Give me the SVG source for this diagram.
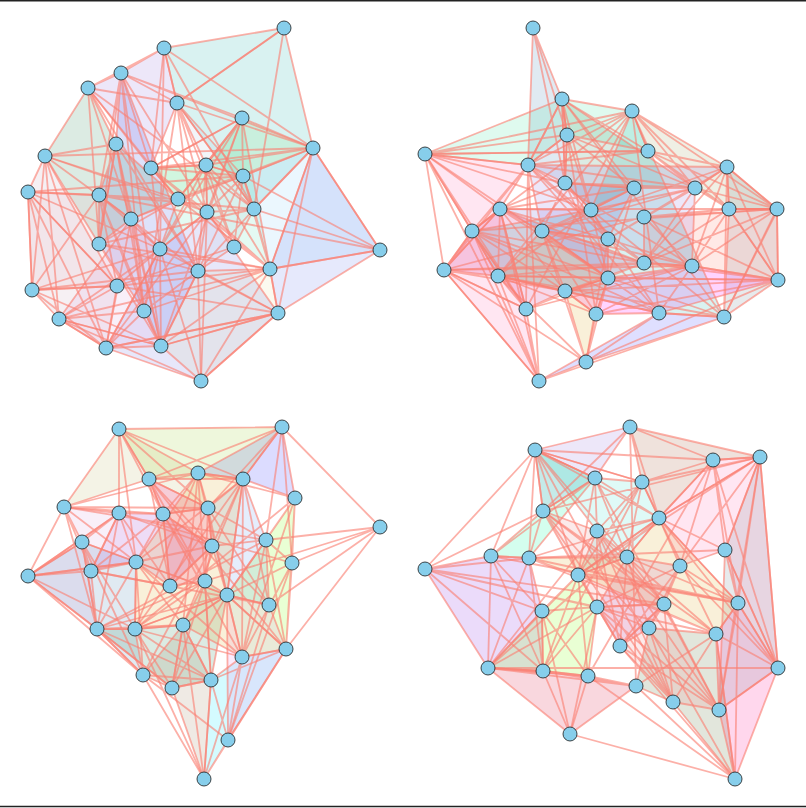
<svg xmlns="http://www.w3.org/2000/svg" width="806" height="808" viewBox="0 0 806 808">
<style>
.h{stroke:none;fill-opacity:.17}
.e{fill:none;stroke:#FA8072;stroke-opacity:.62;stroke-width:1.8;stroke-linejoin:round;stroke-linecap:round}
.n circle{fill:#87CEEB;stroke:#1a1a1a;stroke-width:.8}
.frame{stroke:#222;stroke-width:1.5}
</style>
<rect width="806" height="808" fill="#fff"/>
<line class="frame" x1="0" y1="0.75" x2="806" y2="0.75"/>
<line class="frame" x1="0" y1="806.5" x2="806" y2="806.5"/>
<g id="hulls">
<!-- panel A -->
<polygon class="h" fill="#20b2aa" fill-opacity=".12" points="164,48 284,28 313,148 254,209 177,103"/>
<polygon class="h" fill="#9370db" points="164,48 177,103 151,168 88,88 121,73"/>
<polygon class="h" fill="#3e54e0" fill-opacity=".3" points="121,73 198,271 161,346 144,311 99,244 99,195 116,144"/>
<polygon class="h" fill="#7ee07e" points="242,118 313,148 243,176 178,199 151,168 206,165"/>
<polygon class="h" fill="#87cefa" fill-opacity=".25" points="313,148 380,250 270,269 254,209 243,176"/>
<polygon class="h" fill="#c8a8b8" fill-opacity=".15" points="45,156 117,286 106,348 59,319 32,290 28,192"/>
<polygon class="h" fill="#e8e0a0" points="270,269 278,313 201,381 161,346 198,271"/>
<polygon class="h" fill="#7070e0" fill-opacity=".22" points="207,212 278,313 201,381 106,348 160,249"/>
<polygon class="h" fill="#2e8b57" fill-opacity=".13" points="88,88 116,144 178,199 131,219 99,244 45,156"/>
<polygon class="h" fill="#e0b0c0" fill-opacity=".12" points="28,192 99,195 160,249 117,286 32,290"/>
<polygon class="h" fill="#b0c4de" points="177,103 243,176 254,209 234,247 198,271 207,212 206,165"/>
<polygon class="h" fill="#dda0dd" points="131,219 160,249 144,311 161,346 106,348 59,319"/>
<polygon class="h" fill="#5fe0b0" points="206,165 242,118 270,269 207,212 160,249 178,199 151,168"/>
<polygon class="h" fill="#6a7ff0" points="313,148 380,250 278,313 270,269"/>
<!-- panel B -->
<polygon class="h" fill="#4682b4" points="533,28 562,99 567,135 565,183 528,165"/>
<polygon class="h" fill="#40e0a0" points="425,154 562,99 632,111 648,151 567,135 528,165"/>
<polygon class="h" fill="#ff69b4" points="425,154 528,165 500,209 526,309 539,381 444,270 472,231"/>
<polygon class="h" fill="#a0a060" points="632,111 727,167 777,209 729,209 695,188 648,151"/>
<polygon class="h" fill="#708090" points="727,167 777,209 778,280 724,317 729,209"/>
<polygon class="h" fill="#4040ff" points="539,381 659,313 724,317 586,362"/>
<polygon class="h" fill="#ff00ff" points="608,278 692,266 778,280 659,313 596,314 565,291"/>
<polygon class="h" fill="#6a5acd" points="565,183 634,188 608,239 608,278 542,231 500,209 591,210"/>
<polygon class="h" fill="#2e8b57" points="562,99 695,188 634,188 591,210 565,183 567,135"/>
<polygon class="h" fill="#ff7f6a" fill-opacity=".12" points="644,217 729,209 777,209 778,280 692,266 644,263"/>
<polygon class="h" fill="#daa520" points="542,231 608,278 596,314 586,362 565,291 498,276"/>
<polygon class="h" fill="#c71585" fill-opacity=".12" points="500,209 644,263 565,291 526,309 498,276 444,270 472,231"/>
<polygon class="h" fill="#9370db" points="528,165 727,167 695,188 692,266 644,263 608,239 542,231"/>
<polygon class="h" fill="#20b2aa" fill-opacity=".1" points="632,111 724,317 659,313 498,276 472,231 591,210"/>
<!-- panel C -->
<polygon class="h" fill="#bdb76b" points="119,429 198,473 208,508 163,514 149,479 64,507"/>
<polygon class="h" fill="#3030ff" points="198,473 282,427 295,498 243,479"/>
<polygon class="h" fill="#7fff00" points="295,498 292,563 286,649 242,657 227,595 266,540"/>
<polygon class="h" fill="#dda0dd" points="64,507 119,513 91,571 97,629 28,576 82,542"/>
<polygon class="h" fill="#4682b4" points="82,542 136,562 135,629 143,675 97,629 28,576"/>
<polygon class="h" fill="#a0825d" points="183,625 211,680 204,779 172,688 143,675"/>
<polygon class="h" fill="#00e5ff" points="242,657 286,649 228,740 204,779 211,680"/>
<polygon class="h" fill="#ee82ee" points="227,595 269,605 286,649 228,740"/>
<polygon class="h" fill="#9932cc" points="119,513 163,514 212,546 170,586 136,562 91,571"/>
<polygon class="h" fill="#2e8b57" points="205,581 227,595 211,680 172,688 97,629 135,629 183,625"/>
<polygon class="h" fill="#ff1493" fill-opacity=".1" points="149,479 208,508 212,546 205,581 170,586 163,514"/>
<polygon class="h" fill="#6495ed" points="243,479 266,540 269,605 227,595 212,546 208,508"/>
<polygon class="h" fill="#daa520" fill-opacity=".12" points="198,473 243,479 227,595 242,657 183,625 135,629 136,562"/>
<polygon class="h" fill="#9acd32" fill-opacity=".14" points="119,429 282,427 243,479 149,479"/>
<!-- panel D -->
<polygon class="h" fill="#9370db" points="535,450 630,427 595,478 543,511"/>
<polygon class="h" fill="#a0522d" fill-opacity=".13" points="630,427 760,457 713,460 659,518 642,482"/>
<polygon class="h" fill="#00fa9a" fill-opacity=".13" points="535,450 595,478 529,558 491,556 543,511"/>
<polygon class="h" fill="#8a2be2" fill-opacity=".12" points="425,569 491,556 529,558 542,611 543,671 488,668"/>
<polygon class="h" fill="#ff1493" points="738,603 778,668 735,779 719,710 716,634"/>
<polygon class="h" fill="#7fff00" fill-opacity=".13" points="578,575 597,607 588,676 543,671 488,668 542,611"/>
<polygon class="h" fill="#dc143c" fill-opacity=".13" points="488,668 543,671 588,676 636,686 570,734"/>
<polygon class="h" fill="#556b2f" fill-opacity=".1" points="649,628 716,634 735,779 673,702 636,686"/>
<polygon class="h" fill="#40e0d0" points="535,450 595,478 642,482 659,518 627,557 578,575 597,531"/>
<polygon class="h" fill="#ff69b4" fill-opacity=".12" points="713,460 760,457 778,668 738,603 725,550 680,566 659,518"/>
<polygon class="h" fill="#ba55d3" points="627,557 680,566 664,604 649,628 620,646 597,607"/>
<polygon class="h" fill="#708090" points="760,457 778,668 719,710 725,550"/>
<polygon class="h" fill="#f08080" fill-opacity=".1" points="543,511 597,531 664,604 719,710 673,702 620,646 597,607"/>
<polygon class="h" fill="#daa520" fill-opacity=".12" points="529,558 627,557 659,518 738,603 716,634 578,575"/>
</g>
<g id="connectors">
<!-- panel A -->
<path class="e" d="M164 48 L284 28 L313 148 L254 209 L177 103 L164 48 L313 148 L177 103 L284 28 L254 209 L164 48"/>
<path class="e" d="M164 48 L177 103 L151 168 L88 88 L121 73 L164 48 L151 168 L121 73 L177 103 L88 88 L164 48"/>
<path class="e" d="M121 73 L198 271 L161 346 L144 311 L99 244 L99 195 L116 144 L121 73 L161 346 L99 244 L116 144 L198 271 L144 311 L99 195 L121 73 L144 311 L116 144 L161 346 L99 195 L198 271 L99 244 L121 73"/>
<path class="e" d="M242 118 L313 148 L243 176 L178 199 L151 168 L206 165 L242 118 L243 176 L151 168 L242 118 M313 148 L178 199 L206 165 L313 148 M242 118 L178 199 M313 148 L151 168 M243 176 L206 165"/>
<path class="e" d="M313 148 L380 250 L270 269 L254 209 L243 176 L313 148 L270 269 L243 176 L380 250 L254 209 L313 148"/>
<path class="e" d="M45 156 L117 286 L106 348 L59 319 L32 290 L28 192 L45 156 L106 348 L32 290 L45 156 M117 286 L59 319 L28 192 L117 286 M45 156 L59 319 M117 286 L32 290 M106 348 L28 192"/>
<path class="e" d="M270 269 L278 313 L201 381 L161 346 L198 271 L270 269 L201 381 L198 271 L278 313 L161 346 L270 269"/>
<path class="e" d="M207 212 L278 313 L201 381 L106 348 L160 249 L207 212 L201 381 L160 249 L278 313 L106 348 L207 212"/>
<path class="e" d="M88 88 L116 144 L178 199 L131 219 L99 244 L45 156 L88 88 L178 199 L99 244 L88 88 M116 144 L131 219 L45 156 L116 144 M88 88 L131 219 M116 144 L99 244 M178 199 L45 156"/>
<path class="e" d="M28 192 L99 195 L160 249 L117 286 L32 290 L28 192 L160 249 L32 290 L99 195 L117 286 L28 192"/>
<path class="e" d="M177 103 L243 176 L254 209 L234 247 L198 271 L207 212 L206 165 L177 103 L254 209 L198 271 L206 165 L243 176 L234 247 L207 212 L177 103 L234 247 L206 165 L254 209 L207 212 L243 176 L198 271 L177 103"/>
<path class="e" d="M131 219 L160 249 L144 311 L161 346 L106 348 L59 319 L131 219 L144 311 L106 348 L131 219 M160 249 L161 346 L59 319 L160 249 M131 219 L161 346 M160 249 L106 348 M144 311 L59 319"/>
<path class="e" d="M206 165 L242 118 L270 269 L207 212 L160 249 L178 199 L151 168 L206 165 L270 269 L160 249 L151 168 L242 118 L207 212 L178 199 L206 165 L207 212 L151 168 L270 269 L178 199 L242 118 L160 249 L206 165"/>
<path class="e" d="M313 148 L380 250 L278 313 L270 269 L313 148 L278 313 M380 250 L270 269"/>
<path class="e" d="M380 250 L99 195 M121 73 L242 118 M121 73 L313 148 M32 290 L161 346 M59 319 L161 346 M45 156 L313 148 M88 88 L254 209 M28 192 L243 176 M284 28 L177 103 M59 319 L201 381 M106 348 L278 313 M99 244 L270 269 M117 286 L234 247 M117 286 L270 269 M117 286 L278 313 M99 244 L254 209 M99 195 L254 209 M131 219 L243 176 M144 311 L270 269 M161 346 L278 313 M88 88 L198 271 M121 73 L207 212 M164 48 L160 249 M177 103 L144 311 M242 118 L161 346 M45 156 L207 212 M28 192 L178 199 M32 290 L198 271 M59 319 L270 269"/>
<!-- panel B -->
<path class="e" d="M533 28 L562 99 L567 135 L565 183 L528 165 L533 28 L567 135 L528 165 L562 99 L565 183 L533 28"/>
<path class="e" d="M425 154 L562 99 L632 111 L648 151 L567 135 L528 165 L425 154 L632 111 L567 135 L425 154 M562 99 L648 151 L528 165 L562 99 M425 154 L648 151 M562 99 L567 135 M632 111 L528 165"/>
<path class="e" d="M425 154 L528 165 L500 209 L526 309 L539 381 L444 270 L472 231 L425 154 L500 209 L539 381 L472 231 L528 165 L526 309 L444 270 L425 154 L526 309 L472 231 L500 209 L444 270 L528 165 L539 381 L425 154"/>
<path class="e" d="M632 111 L727 167 L777 209 L729 209 L695 188 L648 151 L632 111 L777 209 L695 188 L632 111 M727 167 L729 209 L648 151 L727 167 M632 111 L729 209 M727 167 L695 188 M777 209 L648 151"/>
<path class="e" d="M727 167 L777 209 L778 280 L724 317 L729 209 L727 167 L778 280 L729 209 L777 209 L724 317 L727 167"/>
<path class="e" d="M539 381 L659 313 L724 317 L586 362 L539 381 L724 317 M659 313 L586 362"/>
<path class="e" d="M608 278 L692 266 L778 280 L659 313 L596 314 L565 291 L608 278 L778 280 L596 314 L608 278 M692 266 L659 313 L565 291 L692 266 M608 278 L659 313 M692 266 L596 314 M778 280 L565 291"/>
<path class="e" d="M565 183 L634 188 L608 239 L608 278 L542 231 L500 209 L591 210 L565 183 L608 239 L542 231 L591 210 L634 188 L608 278 L500 209 L565 183 L608 278 L591 210 L608 239 L500 209 L634 188 L542 231 L565 183"/>
<path class="e" d="M562 99 L695 188 L634 188 L591 210 L565 183 L567 135 L562 99 L634 188 L565 183 L562 99 M695 188 L591 210 L567 135 L695 188 M562 99 L591 210 M695 188 L565 183 M634 188 L567 135"/>
<path class="e" d="M644 217 L729 209 L777 209 L778 280 L692 266 L644 263 L644 217 L777 209 L692 266 L644 217 M729 209 L778 280 L644 263 L729 209 M644 217 L778 280 M729 209 L692 266 M777 209 L644 263"/>
<path class="e" d="M542 231 L608 278 L596 314 L586 362 L565 291 L498 276 L542 231 L596 314 L565 291 L542 231 M608 278 L586 362 L498 276 L608 278 M542 231 L586 362 M608 278 L565 291 M596 314 L498 276"/>
<path class="e" d="M500 209 L644 263 L565 291 L526 309 L498 276 L444 270 L472 231 L500 209 L565 291 L498 276 L472 231 L644 263 L526 309 L444 270 L500 209 L526 309 L472 231 L565 291 L444 270 L644 263 L498 276 L500 209"/>
<path class="e" d="M528 165 L727 167 L695 188 L692 266 L644 263 L608 239 L542 231 L528 165 L695 188 L644 263 L542 231 L727 167 L692 266 L608 239 L528 165 L692 266 L542 231 L695 188 L608 239 L727 167 L644 263 L528 165"/>
<path class="e" d="M632 111 L724 317 L659 313 L498 276 L472 231 L591 210 L632 111 L659 313 L472 231 L632 111 M724 317 L498 276 L591 210 L724 317 M632 111 L498 276 M724 317 L472 231 M659 313 L591 210"/>
<path class="e" d="M425 154 L591 210 M425 154 L565 183 M444 270 L539 381 M425 154 L472 231 M586 362 L778 280 M500 209 L777 209 M444 270 L692 266 M425 154 L648 151 M444 270 L586 362 M539 381 L498 276 M724 317 L778 209 M586 362 L608 239 M472 231 L777 209 M444 270 L644 217 M528 165 L659 313 M567 135 L596 314 M562 99 L724 317 M498 276 L778 280 M526 309 L692 266 M425 154 L608 278 M632 111 L526 309"/>
<!-- panel C -->
<path class="e" d="M119 429 L198 473 L208 508 L163 514 L149 479 L64 507 L119 429 L208 508 L149 479 L119 429 M198 473 L163 514 L64 507 L198 473 M119 429 L163 514 M198 473 L149 479 M208 508 L64 507"/>
<path class="e" d="M198 473 L282 427 L295 498 L243 479 L198 473 L295 498 M282 427 L243 479"/>
<path class="e" d="M295 498 L292 563 L286 649 L242 657 L227 595 L266 540 L295 498 L286 649 L227 595 L295 498 M292 563 L242 657 L266 540 L292 563 M295 498 L242 657 M292 563 L227 595 M286 649 L266 540"/>
<path class="e" d="M64 507 L119 513 L91 571 L97 629 L28 576 L82 542 L64 507 L91 571 L28 576 L64 507 M119 513 L97 629 L82 542 L119 513 M64 507 L97 629 M119 513 L28 576 M91 571 L82 542"/>
<path class="e" d="M82 542 L136 562 L135 629 L143 675 L97 629 L28 576 L82 542 L135 629 L97 629 L82 542 M136 562 L143 675 L28 576 L136 562 M82 542 L143 675 M136 562 L97 629 M135 629 L28 576"/>
<path class="e" d="M183 625 L211 680 L204 779 L172 688 L143 675 L183 625 L204 779 L143 675 L211 680 L172 688 L183 625"/>
<path class="e" d="M242 657 L286 649 L228 740 L204 779 L211 680 L242 657 L228 740 L211 680 L286 649 L204 779 L242 657"/>
<path class="e" d="M227 595 L269 605 L286 649 L228 740 L227 595 L286 649 M269 605 L228 740"/>
<path class="e" d="M119 513 L163 514 L212 546 L170 586 L136 562 L91 571 L119 513 L212 546 L136 562 L119 513 M163 514 L170 586 L91 571 L163 514 M119 513 L170 586 M163 514 L136 562 M212 546 L91 571"/>
<path class="e" d="M205 581 L227 595 L211 680 L172 688 L97 629 L135 629 L183 625 L205 581 L211 680 L97 629 L183 625 L227 595 L172 688 L135 629 L205 581 L172 688 L183 625 L211 680 L135 629 L227 595 L97 629 L205 581"/>
<path class="e" d="M149 479 L208 508 L212 546 L205 581 L170 586 L163 514 L149 479 L212 546 L170 586 L149 479 M208 508 L205 581 L163 514 L208 508 M149 479 L205 581 M208 508 L170 586 M212 546 L163 514"/>
<path class="e" d="M243 479 L266 540 L269 605 L227 595 L212 546 L208 508 L243 479 L269 605 L212 546 L243 479 M266 540 L227 595 L208 508 L266 540 M243 479 L227 595 M266 540 L212 546 M269 605 L208 508"/>
<path class="e" d="M198 473 L243 479 L227 595 L242 657 L183 625 L135 629 L136 562 L198 473 L227 595 L183 625 L136 562 L243 479 L242 657 L135 629 L198 473 L242 657 L136 562 L227 595 L135 629 L243 479 L183 625 L198 473"/>
<path class="e" d="M119 429 L282 427 L243 479 L149 479 L119 429 L243 479 M282 427 L149 479"/>
<path class="e" d="M380 527 L282 427 M380 527 L292 563 M380 527 L266 540 M380 527 L286 649 M380 527 L269 605 M380 527 L205 581 M119 429 L119 513 M119 429 L136 562 M282 427 L266 540 M282 427 L292 563 M282 427 L208 508 M204 779 L135 629 M228 740 L292 563 M64 507 L136 562 M97 629 L172 688 M28 576 L119 513 M28 576 L136 562 M97 629 L143 675 M143 675 L228 740 M64 507 L266 540 M119 513 L292 563 M82 542 L227 595 M91 571 L269 605 M149 479 L286 649 M198 473 L211 680 M163 514 L242 657 M97 629 L266 540 M135 629 L295 498 M143 675 L212 546"/>
<!-- panel D -->
<path class="e" d="M535 450 L630 427 L595 478 L543 511 L535 450 L595 478 M630 427 L543 511"/>
<path class="e" d="M630 427 L760 457 L713 460 L659 518 L642 482 L630 427 L713 460 L642 482 L760 457 L659 518 L630 427"/>
<path class="e" d="M535 450 L595 478 L529 558 L491 556 L543 511 L535 450 L529 558 L543 511 L595 478 L491 556 L535 450"/>
<path class="e" d="M425 569 L491 556 L529 558 L542 611 L543 671 L488 668 L425 569 L529 558 L543 671 L425 569 M491 556 L542 611 L488 668 L491 556 M425 569 L542 611 M491 556 L543 671 M529 558 L488 668"/>
<path class="e" d="M738 603 L778 668 L735 779 L719 710 L716 634 L738 603 L735 779 L716 634 L778 668 L719 710 L738 603"/>
<path class="e" d="M578 575 L597 607 L588 676 L543 671 L488 668 L542 611 L578 575 L588 676 L488 668 L578 575 M597 607 L543 671 L542 611 L597 607 M578 575 L543 671 M597 607 L488 668 M588 676 L542 611"/>
<path class="e" d="M488 668 L543 671 L588 676 L636 686 L570 734 L488 668 L588 676 L570 734 L543 671 L636 686 L488 668"/>
<path class="e" d="M649 628 L716 634 L735 779 L673 702 L636 686 L649 628 L735 779 L636 686 L716 634 L673 702 L649 628"/>
<path class="e" d="M535 450 L595 478 L642 482 L659 518 L627 557 L578 575 L597 531 L535 450 L642 482 L627 557 L597 531 L595 478 L659 518 L578 575 L535 450 L659 518 L597 531 L642 482 L578 575 L595 478 L627 557 L535 450"/>
<path class="e" d="M713 460 L760 457 L778 668 L738 603 L725 550 L680 566 L659 518 L713 460 L778 668 L725 550 L659 518 L760 457 L738 603 L680 566 L713 460 L738 603 L659 518 L778 668 L680 566 L760 457 L725 550 L713 460"/>
<path class="e" d="M627 557 L680 566 L664 604 L649 628 L620 646 L597 607 L627 557 L664 604 L620 646 L627 557 M680 566 L649 628 L597 607 L680 566 M627 557 L649 628 M680 566 L620 646 M664 604 L597 607"/>
<path class="e" d="M760 457 L778 668 L719 710 L725 550 L760 457 L719 710 M778 668 L725 550"/>
<path class="e" d="M543 511 L597 531 L664 604 L719 710 L673 702 L620 646 L597 607 L543 511 L664 604 L673 702 L597 607 L597 531 L719 710 L620 646 L543 511 L719 710 L597 607 L664 604 L620 646 L597 531 L673 702 L543 511"/>
<path class="e" d="M529 558 L627 557 L659 518 L738 603 L716 634 L578 575 L529 558 L659 518 L716 634 L529 558 M627 557 L738 603 L578 575 L627 557 M529 558 L738 603 M627 557 L716 634 M659 518 L578 575"/>
<path class="e" d="M425 569 L543 511 M425 569 L535 450 M425 569 L664 604 M425 569 L597 607 M760 457 L543 511 M713 460 L535 450 M570 734 L735 779 M570 734 L542 611 M735 779 L588 676 M735 779 L620 646 M488 668 L778 668 M630 427 L636 686 M535 450 L642 482 M760 457 L578 575 M488 668 L597 531 M570 734 L597 607 M491 556 L738 603 M543 511 L716 634 M535 450 L673 702 M595 478 L719 710 M642 482 L543 671 M713 460 L588 676 M659 518 L488 668 M529 558 L725 550 M425 569 L716 634"/>
</g>
<g id="nodes">
<g id="A1" class="n"><circle cx="284" cy="28" r="7"/></g>
<g id="A2" class="n"><circle cx="164" cy="48" r="7"/></g>
<g id="A3" class="n"><circle cx="121" cy="73" r="7"/></g>
<g id="A4" class="n"><circle cx="88" cy="88" r="7"/></g>
<g id="A5" class="n"><circle cx="177" cy="103" r="7"/></g>
<g id="A6" class="n"><circle cx="242" cy="118" r="7"/></g>
<g id="A7" class="n"><circle cx="313" cy="148" r="7"/></g>
<g id="A8" class="n"><circle cx="116" cy="144" r="7"/></g>
<g id="A9" class="n"><circle cx="45" cy="156" r="7"/></g>
<g id="A10" class="n"><circle cx="151" cy="168" r="7"/></g>
<g id="A11" class="n"><circle cx="206" cy="165" r="7"/></g>
<g id="A12" class="n"><circle cx="243" cy="176" r="7"/></g>
<g id="A13" class="n"><circle cx="28" cy="192" r="7"/></g>
<g id="A14" class="n"><circle cx="99" cy="195" r="7"/></g>
<g id="A15" class="n"><circle cx="178" cy="199" r="7"/></g>
<g id="A16" class="n"><circle cx="207" cy="212" r="7"/></g>
<g id="A17" class="n"><circle cx="254" cy="209" r="7"/></g>
<g id="A18" class="n"><circle cx="131" cy="219" r="7"/></g>
<g id="A19" class="n"><circle cx="99" cy="244" r="7"/></g>
<g id="A20" class="n"><circle cx="160" cy="249" r="7"/></g>
<g id="A21" class="n"><circle cx="234" cy="247" r="7"/></g>
<g id="A22" class="n"><circle cx="380" cy="250" r="7"/></g>
<g id="A23" class="n"><circle cx="198" cy="271" r="7"/></g>
<g id="A24" class="n"><circle cx="270" cy="269" r="7"/></g>
<g id="A25" class="n"><circle cx="32" cy="290" r="7"/></g>
<g id="A26" class="n"><circle cx="117" cy="286" r="7"/></g>
<g id="A27" class="n"><circle cx="59" cy="319" r="7"/></g>
<g id="A28" class="n"><circle cx="144" cy="311" r="7"/></g>
<g id="A29" class="n"><circle cx="278" cy="313" r="7"/></g>
<g id="A30" class="n"><circle cx="106" cy="348" r="7"/></g>
<g id="A31" class="n"><circle cx="161" cy="346" r="7"/></g>
<g id="A32" class="n"><circle cx="201" cy="381" r="7"/></g>
<g id="B1" class="n"><circle cx="533" cy="28" r="7"/></g>
<g id="B2" class="n"><circle cx="562" cy="99" r="7"/></g>
<g id="B3" class="n"><circle cx="632" cy="111" r="7"/></g>
<g id="B4" class="n"><circle cx="567" cy="135" r="7"/></g>
<g id="B5" class="n"><circle cx="425" cy="154" r="7"/></g>
<g id="B6" class="n"><circle cx="648" cy="151" r="7"/></g>
<g id="B7" class="n"><circle cx="528" cy="165" r="7"/></g>
<g id="B8" class="n"><circle cx="727" cy="167" r="7"/></g>
<g id="B9" class="n"><circle cx="565" cy="183" r="7"/></g>
<g id="B10" class="n"><circle cx="634" cy="188" r="7"/></g>
<g id="B11" class="n"><circle cx="695" cy="188" r="7"/></g>
<g id="B12" class="n"><circle cx="500" cy="209" r="7"/></g>
<g id="B13" class="n"><circle cx="591" cy="210" r="7"/></g>
<g id="B14" class="n"><circle cx="729" cy="209" r="7"/></g>
<g id="B15" class="n"><circle cx="777" cy="209" r="7"/></g>
<g id="B16" class="n"><circle cx="644" cy="217" r="7"/></g>
<g id="B17" class="n"><circle cx="472" cy="231" r="7"/></g>
<g id="B18" class="n"><circle cx="542" cy="231" r="7"/></g>
<g id="B19" class="n"><circle cx="608" cy="239" r="7"/></g>
<g id="B20" class="n"><circle cx="644" cy="263" r="7"/></g>
<g id="B21" class="n"><circle cx="692" cy="266" r="7"/></g>
<g id="B22" class="n"><circle cx="444" cy="270" r="7"/></g>
<g id="B23" class="n"><circle cx="498" cy="276" r="7"/></g>
<g id="B24" class="n"><circle cx="608" cy="278" r="7"/></g>
<g id="B25" class="n"><circle cx="778" cy="280" r="7"/></g>
<g id="B26" class="n"><circle cx="565" cy="291" r="7"/></g>
<g id="B27" class="n"><circle cx="526" cy="309" r="7"/></g>
<g id="B28" class="n"><circle cx="596" cy="314" r="7"/></g>
<g id="B29" class="n"><circle cx="659" cy="313" r="7"/></g>
<g id="B30" class="n"><circle cx="724" cy="317" r="7"/></g>
<g id="B31" class="n"><circle cx="586" cy="362" r="7"/></g>
<g id="B32" class="n"><circle cx="539" cy="381" r="7"/></g>
<g id="C1" class="n"><circle cx="119" cy="429" r="7"/></g>
<g id="C2" class="n"><circle cx="282" cy="427" r="7"/></g>
<g id="C3" class="n"><circle cx="149" cy="479" r="7"/></g>
<g id="C4" class="n"><circle cx="198" cy="473" r="7"/></g>
<g id="C5" class="n"><circle cx="243" cy="479" r="7"/></g>
<g id="C6" class="n"><circle cx="295" cy="498" r="7"/></g>
<g id="C7" class="n"><circle cx="64" cy="507" r="7"/></g>
<g id="C8" class="n"><circle cx="119" cy="513" r="7"/></g>
<g id="C9" class="n"><circle cx="163" cy="514" r="7"/></g>
<g id="C10" class="n"><circle cx="208" cy="508" r="7"/></g>
<g id="C11" class="n"><circle cx="380" cy="527" r="7"/></g>
<g id="C12" class="n"><circle cx="82" cy="542" r="7"/></g>
<g id="C13" class="n"><circle cx="266" cy="540" r="7"/></g>
<g id="C14" class="n"><circle cx="212" cy="546" r="7"/></g>
<g id="C15" class="n"><circle cx="136" cy="562" r="7"/></g>
<g id="C16" class="n"><circle cx="292" cy="563" r="7"/></g>
<g id="C17" class="n"><circle cx="91" cy="571" r="7"/></g>
<g id="C18" class="n"><circle cx="28" cy="576" r="7"/></g>
<g id="C19" class="n"><circle cx="170" cy="586" r="7"/></g>
<g id="C20" class="n"><circle cx="205" cy="581" r="7"/></g>
<g id="C21" class="n"><circle cx="227" cy="595" r="7"/></g>
<g id="C22" class="n"><circle cx="269" cy="605" r="7"/></g>
<g id="C23" class="n"><circle cx="183" cy="625" r="7"/></g>
<g id="C24" class="n"><circle cx="97" cy="629" r="7"/></g>
<g id="C25" class="n"><circle cx="135" cy="629" r="7"/></g>
<g id="C26" class="n"><circle cx="286" cy="649" r="7"/></g>
<g id="C27" class="n"><circle cx="242" cy="657" r="7"/></g>
<g id="C28" class="n"><circle cx="143" cy="675" r="7"/></g>
<g id="C29" class="n"><circle cx="172" cy="688" r="7"/></g>
<g id="C30" class="n"><circle cx="211" cy="680" r="7"/></g>
<g id="C31" class="n"><circle cx="228" cy="740" r="7"/></g>
<g id="C32" class="n"><circle cx="204" cy="779" r="7"/></g>
<g id="D1" class="n"><circle cx="630" cy="427" r="7"/></g>
<g id="D2" class="n"><circle cx="535" cy="450" r="7"/></g>
<g id="D3" class="n"><circle cx="713" cy="460" r="7"/></g>
<g id="D4" class="n"><circle cx="760" cy="457" r="7"/></g>
<g id="D5" class="n"><circle cx="595" cy="478" r="7"/></g>
<g id="D6" class="n"><circle cx="642" cy="482" r="7"/></g>
<g id="D7" class="n"><circle cx="543" cy="511" r="7"/></g>
<g id="D8" class="n"><circle cx="659" cy="518" r="7"/></g>
<g id="D9" class="n"><circle cx="597" cy="531" r="7"/></g>
<g id="D10" class="n"><circle cx="491" cy="556" r="7"/></g>
<g id="D11" class="n"><circle cx="529" cy="558" r="7"/></g>
<g id="D12" class="n"><circle cx="425" cy="569" r="7"/></g>
<g id="D13" class="n"><circle cx="627" cy="557" r="7"/></g>
<g id="D14" class="n"><circle cx="725" cy="550" r="7"/></g>
<g id="D15" class="n"><circle cx="680" cy="566" r="7"/></g>
<g id="D16" class="n"><circle cx="578" cy="575" r="7"/></g>
<g id="D17" class="n"><circle cx="738" cy="603" r="7"/></g>
<g id="D18" class="n"><circle cx="542" cy="611" r="7"/></g>
<g id="D19" class="n"><circle cx="597" cy="607" r="7"/></g>
<g id="D20" class="n"><circle cx="664" cy="604" r="7"/></g>
<g id="D21" class="n"><circle cx="649" cy="628" r="7"/></g>
<g id="D22" class="n"><circle cx="716" cy="634" r="7"/></g>
<g id="D23" class="n"><circle cx="620" cy="646" r="7"/></g>
<g id="D24" class="n"><circle cx="488" cy="668" r="7"/></g>
<g id="D25" class="n"><circle cx="543" cy="671" r="7"/></g>
<g id="D26" class="n"><circle cx="588" cy="676" r="7"/></g>
<g id="D27" class="n"><circle cx="636" cy="686" r="7"/></g>
<g id="D28" class="n"><circle cx="673" cy="702" r="7"/></g>
<g id="D29" class="n"><circle cx="719" cy="710" r="7"/></g>
<g id="D30" class="n"><circle cx="778" cy="668" r="7"/></g>
<g id="D31" class="n"><circle cx="570" cy="734" r="7"/></g>
<g id="D32" class="n"><circle cx="735" cy="779" r="7"/></g>
</g>
</svg>
